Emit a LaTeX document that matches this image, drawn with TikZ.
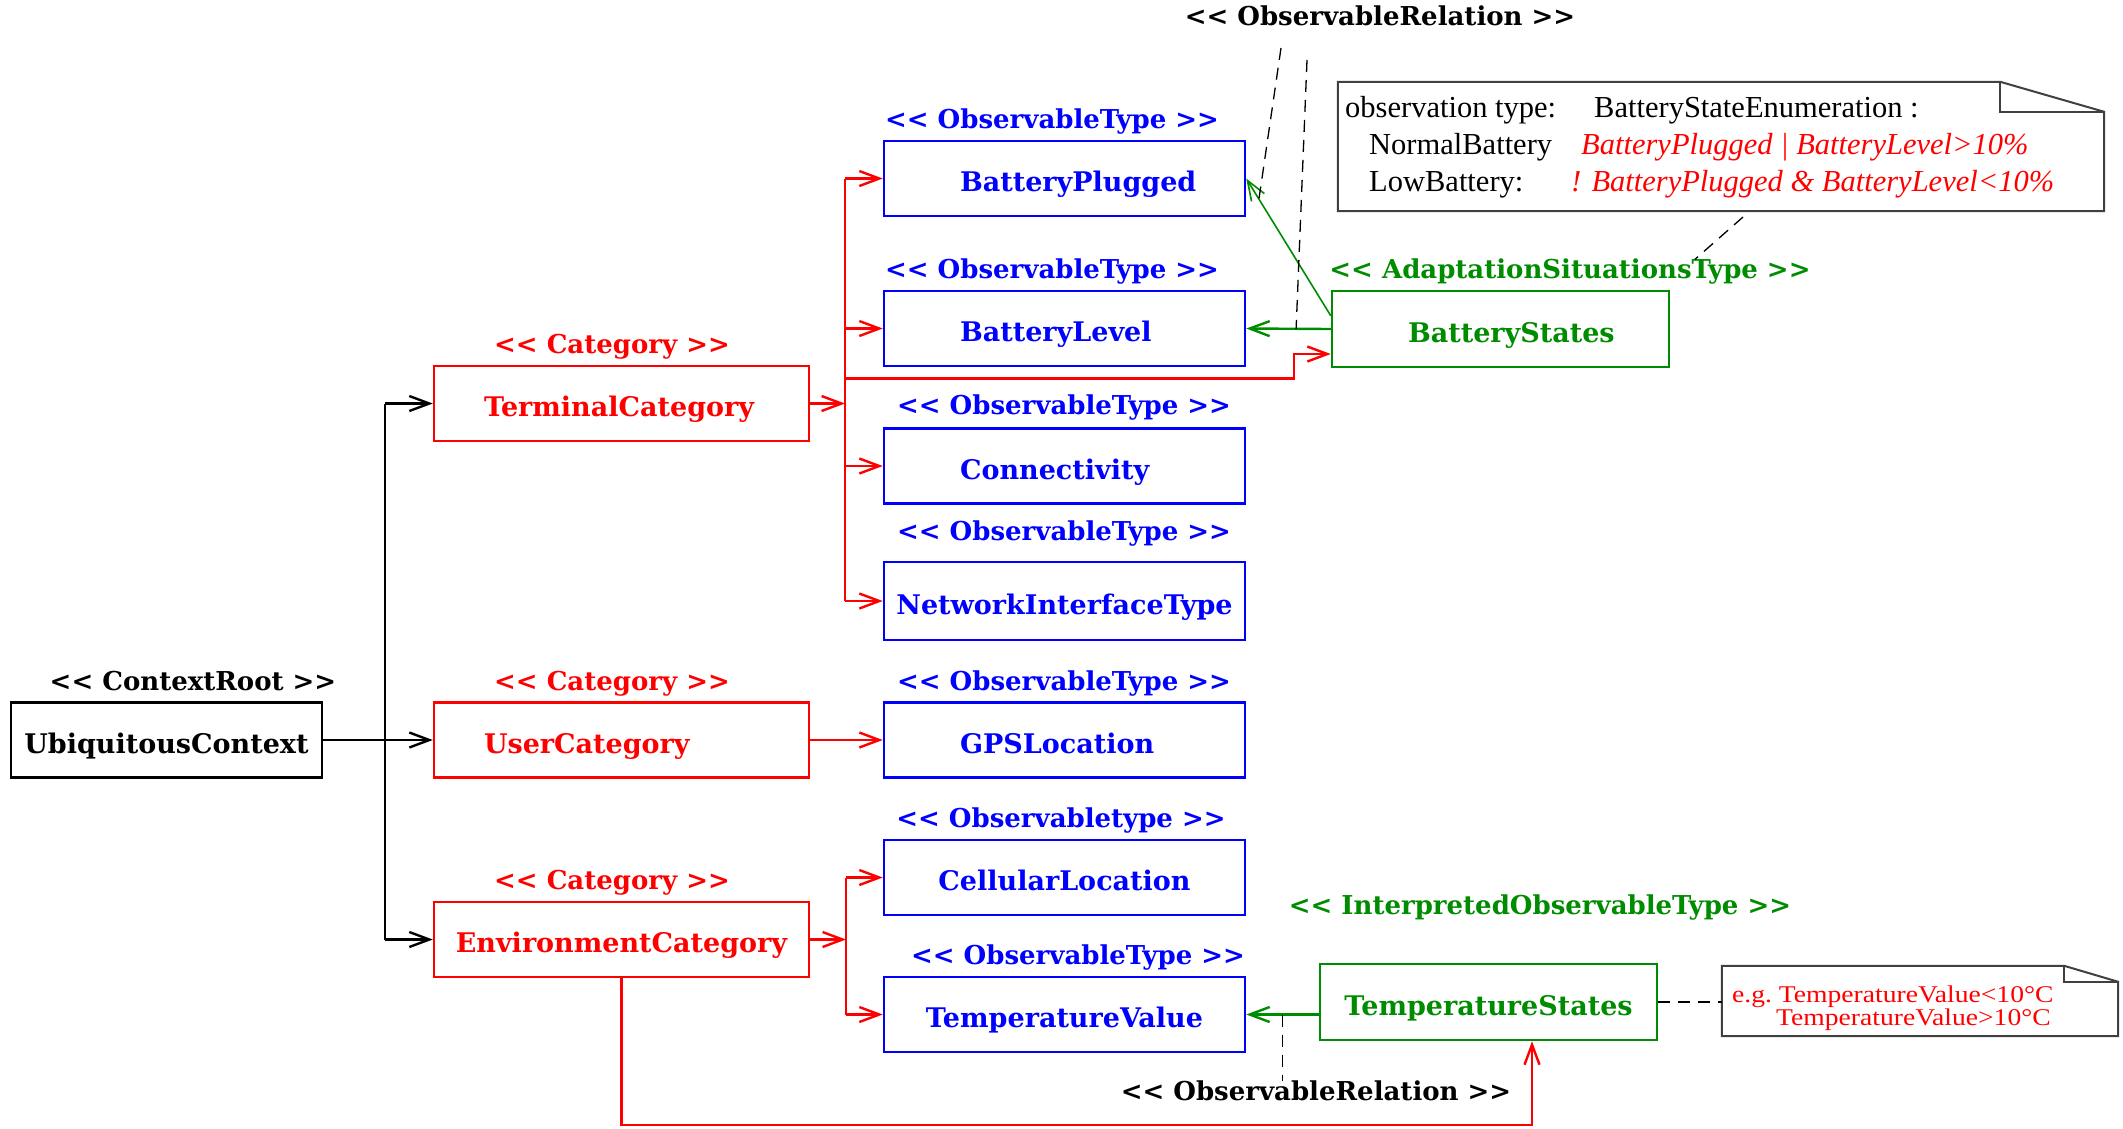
\documentclass[tikz,border=0pt]{standalone}
\usepackage{fontspec}
\setmainfont{Liberation Serif}
\newfontfamily\bfont{DejaVu Serif}
\newfontfamily\ntwofont{Liberation Serif}[FakeStretch=1.15]
\usetikzlibrary{arrows.meta,calc}
\definecolor{cRed}{RGB}{255,0,0}
\definecolor{cBlue}{RGB}{0,0,255}
\definecolor{cGreen}{RGB}{0,140,0}
\newcommand\sopen{<\kern0pt<}
\newcommand\sclose{>\kern0pt>}
\tikzset{
  box/.style={draw, line width=2.5pt, inner sep=0pt, minimum height=75pt,
    text height=26pt, text depth=0pt,
    font=\bfont\bfseries\fontsize{27}{32}\selectfont},
  catbox/.style={box, draw=cRed, text=cRed, minimum width=375pt},
  obsbox/.style={box, draw=cBlue, text=cBlue, minimum width=361pt},
  sitbox/.style={box, draw=cGreen, text=cGreen, minimum width=337pt, minimum height=76pt},
  stereo/.style={inner sep=0pt, text height=19pt, text depth=0pt,
    font=\bfont\bfseries\fontsize{26}{30}\selectfont},
  tip/.style={-{Straight Barb[length=20pt,width=15pt]}},
  blk/.style={line width=2.4pt, black},
  rd/.style={line width=2.4pt, cRed},
  gr/.style={line width=2.4pt, cGreen},
  grthin/.style={line width=1.6pt, cGreen},
  dsh/.style={line width=1.3pt, black, dash pattern=on 12pt off 8pt},
  notebox/.style={inner sep=0pt, draw=none},
  noteline/.style={line width=2pt, draw=black!75},
  ntext/.style={inner sep=0pt, anchor=base west, font=\fontsize{30.5}{35}\selectfont},
  ntwo/.style={inner sep=0pt, anchor=base west, text=cRed, font=\ntwofont\fontsize{24}{28}\selectfont},
}
\begin{document}
\begin{tikzpicture}[x=1pt,y=-1pt]
\useasboundingbox (0,0) rectangle (2123,1128);

% ---------- boxes ----------
\node[box, minimum width=311pt] (uc) at (166.5,740) {UbiquitousContext};
\node[stereo] (ucs) at (193,681) {\sopen\ ContextRoot \sclose};

\node[catbox] (term) at (621.5,403.5) {\makebox[275pt][l]{TerminalCategory}};
\node[catbox] (user) at (621.5,740) {\makebox[275pt][l]{UserCategory}};
\node[catbox] (env) at (621.5,939.5) {EnvironmentCategory};
\node[stereo, text=cRed] (terms) at (612,344) {\sopen\ Category \sclose};
\node[stereo, text=cRed] (users) at (612,681) {\sopen\ Category \sclose};
\node[stereo, text=cRed] (envs) at (612,880) {\sopen\ Category \sclose};

\node[obsbox] (bp) at (1064.5,178.5) {\makebox[209pt][l]{BatteryPlugged}};
\node[obsbox] (bl) at (1064.5,328.5) {\makebox[209pt][l]{BatteryLevel}};
\node[obsbox] (con) at (1064.5,466) {\makebox[209pt][l]{Connectivity}};
\node[obsbox, minimum height=78pt] (nit) at (1064.5,601) {NetworkInterfaceType};
\node[obsbox] (gps) at (1064.5,740) {\makebox[209pt][l]{GPSLocation}};
\node[obsbox] (cell) at (1064.5,877.5) {CellularLocation};
\node[obsbox] (tv) at (1064.5,1014.5) {TemperatureValue};
\node[stereo, text=cBlue] (bps) at (1052,119) {\sopen\ ObservableType \sclose};
\node[stereo, text=cBlue] (bls) at (1052,269) {\sopen\ ObservableType \sclose};
\node[stereo, text=cBlue] (cons) at (1064,405) {\sopen\ ObservableType \sclose};
\node[stereo, text=cBlue] (nits) at (1064,531) {\sopen\ ObservableType \sclose};
\node[stereo, text=cBlue] (gpss) at (1064,681) {\sopen\ ObservableType \sclose};
\node[stereo, text=cBlue] (cells) at (1061,818) {\sopen\ Observabletype \sclose};
\node[stereo, text=cBlue] (tvs) at (1078,955) {\sopen\ ObservableType \sclose};

\node[sitbox] (bs) at (1500.5,329) {\makebox[185pt][l]{BatteryStates}};
\node[sitbox] (ts) at (1488.5,1002) {TemperatureStates};
\node[stereo, text=cGreen] (bss) at (1570,269) {\sopen\ AdaptationSituationsType \sclose};
\node[stereo, text=cGreen] (tss) at (1540,905) {\sopen\ InterpretedObservableType \sclose};

\node[stereo] (ort) at (1380,16) {\sopen\ ObservableRelation \sclose};
\node[stereo] (orb) at (1316,1091) {\sopen\ ObservableRelation \sclose};

% ---------- notes ----------
\node[notebox, minimum width=766pt, minimum height=129pt] (n1) at (1721,146.5) {};
\draw[noteline] (n1.north west) -- ($(n1.north east)+(-104,0)$) -- ($(n1.north east)+(0,30)$)
  -- (n1.south east) -- (n1.south west) -- cycle;
\draw[noteline] ($(n1.north east)+(-104,0)$) -- ($(n1.north east)+(-104,30)$) -- ($(n1.north east)+(0,30)$);
\node[ntext] (n1a) at (1345,117) {observation type:};
\node[ntext] (n1b) at (1594,117) {BatteryStateEnumeration :};
\node[ntext] (n1c) at (1369,154) {NormalBattery};
\node[ntext, text=cRed] (n1d) at (1581,154) {\itshape BatteryPlugged | BatteryLevel>10\%};
\node[ntext] (n1e) at (1369,191) {LowBattery:};
\node[ntext, text=cRed] (n1f) at (1571,191) {\itshape ! BatteryPlugged \& BatteryLevel<10\%};

\node[notebox, minimum width=396pt, minimum height=70pt] (n2) at (1920,1001) {};
\draw[noteline] (n2.north west) -- ($(n2.north east)+(-54,0)$) -- ($(n2.north east)+(0,16)$)
  -- (n2.south east) -- (n2.south west) -- cycle;
\draw[noteline] ($(n2.north east)+(-54,0)$) -- ($(n2.north east)+(-54,16)$) -- ($(n2.north east)+(0,16)$);
\node[ntwo] (n2a) at (1732,1002) {e.g.\ TemperatureValue<10°C};
\node[ntwo] (n2b) at (1776,1025) {TemperatureValue>10°C};

% ---------- black connectors ----------
\coordinate (cb) at (385,740);
\draw[blk, tip] (uc.east) -- (user.west);
\draw[blk] (cb |- term.west) -- (cb |- env.west);
\draw[blk, tip] (cb |- term.west) -- (term.west);
\draw[blk, tip] (cb |- env.west) -- (env.west);

% ---------- red connectors ----------
\coordinate (tb) at (845,403.5);
\draw[rd, tip] (term.east) -- (tb);
\draw[rd] (tb |- bp.west) -- (tb |- nit.west);
\draw[rd, tip] (tb |- bp.west) -- (bp.west);
\draw[rd, tip] (tb |- bl.west) -- (bl.west);
\draw[rd, tip] (tb |- con.west) -- (con.west);
\draw[rd, tip] (tb |- nit.west) -- (nit.west);
\coordinate (rb) at (1294,378.6);
\draw[rd, tip] (tb |- rb) -- (rb) |- ($(bs.west)+(0,25)$);

\draw[rd, tip] (user.east) -- (gps.west);

\coordinate (eb) at (846,939.5);
\draw[rd, tip] (env.east) -- (eb);
\draw[rd] (eb |- cell.west) -- (eb |- tv.west);
\draw[rd, tip] (eb |- cell.west) -- (cell.west);
\draw[rd, tip] (eb |- tv.west) -- (tv.west);

\coordinate (rc) at (1532,1125);
\draw[rd, tip] (env.south) |- (rc) -- (rc |- ts.south);

% ---------- green connectors ----------
\draw[gr, tip] (bs.west) -- coordinate[pos=0.41] (g2) (bl.east);
\draw[grthin, tip] ($(bs.north west)+(0,26)$) -- coordinate[pos=0.85] (g1) (bp.east);
\draw[gr, tip] (ts.west |- tv.east) -- coordinate[pos=0.5] (g3) (tv.east);

% ---------- dashed relations ----------
\coordinate (d1) at (1281,48);
\coordinate (d2) at (1307,60);
\draw[dsh] (d1) -- (g1);
\draw[dsh] (d2) -- (g2);
\draw[dsh] (g3) -- (g3 |- orb.north);
\coordinate (d3) at (1743,217);
\draw[dsh] (d3) -- ($(bss.north)+(125,0)$);
\draw[dsh] (ts.east) -- (ts.east -| n2.west);
\end{tikzpicture}
\end{document}
